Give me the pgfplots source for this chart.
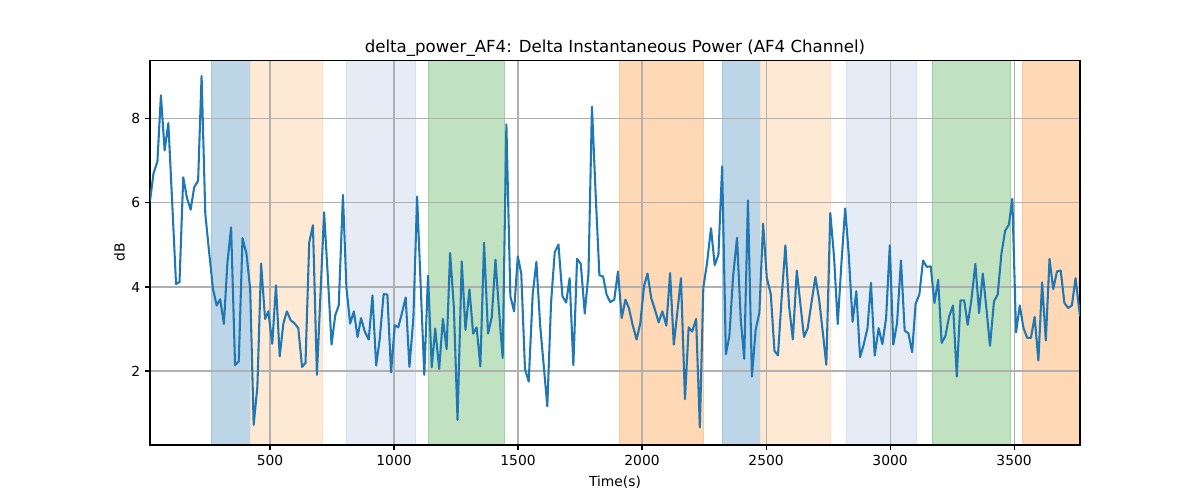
\documentclass[border=0pt]{standalone}
\usepackage{pgfplots}
\pgfplotsset{compat=1.18}
\usepackage{fontspec}
\setmainfont{DejaVu Sans}
\definecolor{tabblue}{RGB}{31,119,180}
\definecolor{bandblue}{RGB}{188,214,232}
\definecolor{bandlorange}{RGB}{254,233,213}
\definecolor{bandlblue}{RGB}{229,236,246}
\definecolor{bandgreen}{RGB}{192,226,192}
\definecolor{bandorange}{RGB}{255,216,182}
\definecolor{edgeblue}{RGB}{165,197,222}
\definecolor{edgelorange}{RGB}{252,222,196}
\definecolor{edgelblue}{RGB}{214,225,240}
\definecolor{edgegreen}{RGB}{160,210,160}
\definecolor{edgeorange}{RGB}{252,200,160}
\definecolor{gridgray}{RGB}{176,176,176}
\begin{document}
\begin{tikzpicture}
\pgfplotsset{set layers}
\begin{axis}[
  at={(0,0)}, anchor=south west,
  scale only axis, width=672.1pt, height=278.2pt,
  clip mode=individual,
  xmin=16, xmax=3766, ymin=0.24, ymax=9.40,
  xtick={500,1000,1500,2000,2500,3000,3500},
  ytick={2,4,6,8},
  grid=major,
  major grid style={gridgray, line width=0.8pt},
  tick style={black, line width=0.8pt},
  major tick length=3.5pt,
  tick align=outside,
  xtick pos=bottom, ytick pos=left,
  axis line style={black, line width=0.8pt},
  /pgf/number format/assume math mode=true,
  /pgf/number format/1000 sep={},
  ticklabel style={font=\fontsize{10}{12}\selectfont},
  xlabel={Time(s)}, ylabel={dB},
  label style={font=\fontsize{10}{12}\selectfont},
  xlabel style={yshift=-1pt},
  ylabel style={yshift=-2pt},
  title={delta\_power\_AF4: Delta Instantaneous Power (AF4 Channel)},
  title style={font=\fontsize{12}{14}\selectfont, yshift=-7pt},
]
\addplot[fill=bandblue, draw=edgeblue, on layer=axis background] coordinates {(265,0) (265,10) (421,10) (421,0)} \closedcycle;
\addplot[fill=bandlorange, draw=edgelorange, on layer=axis background] coordinates {(421,0) (421,10) (710,10) (710,0)} \closedcycle;
\addplot[fill=bandlblue, draw=edgelblue, on layer=axis background] coordinates {(806,0) (806,10) (1084,10) (1084,0)} \closedcycle;
\addplot[fill=bandgreen, draw=edgegreen, on layer=axis background] coordinates {(1138,0) (1138,10) (1445,10) (1445,0)} \closedcycle;
\addplot[fill=bandorange, draw=edgeorange, on layer=axis background] coordinates {(1910,0) (1910,10) (2247,10) (2247,0)} \closedcycle;
\addplot[fill=bandblue, draw=edgeblue, on layer=axis background] coordinates {(2323,0) (2323,10) (2477,10) (2477,0)} \closedcycle;
\addplot[fill=bandlorange, draw=edgelorange, on layer=axis background] coordinates {(2477,0) (2477,10) (2757,10) (2757,0)} \closedcycle;
\addplot[fill=bandlblue, draw=edgelblue, on layer=axis background] coordinates {(2825,0) (2825,10) (3106,10) (3106,0)} \closedcycle;
\addplot[fill=bandgreen, draw=edgegreen, on layer=axis background] coordinates {(3169,0) (3169,10) (3485,10) (3485,0)} \closedcycle;
\addplot[fill=bandorange, draw=edgeorange, on layer=axis background] coordinates {(3535,0) (3535,10) (3800,10) (3800,0)} \closedcycle;
\addplot[tabblue, line width=1.5pt, line join=round] table {
x y
16 6.04
30 6.70
46 6.99
60 8.56
75 7.25
90 7.90
106 5.95
121 4.07
135 4.12
150 6.61
165 6.12
180 5.84
194 6.37
210 6.53
224 9.02
239 5.74
255 4.80
270 3.95
285 3.56
299 3.71
314 3.12
328 4.57
343 5.42
359 2.14
374 2.23
389 5.16
405 4.79
420 3.95
434 0.72
449 1.63
464 4.56
480 3.24
493 3.42
509 2.65
524 4.04
539 2.35
554 3.14
568 3.42
583 3.21
598 3.14
614 3.02
629 2.10
643 2.19
658 5.06
673 5.47
689 1.91
704 3.90
718 5.78
733 4.25
748 2.63
763 3.33
777 3.56
794 6.19
808 3.98
823 3.13
838 3.42
853 2.81
867 3.26
882 2.94
898 2.75
913 3.80
928 2.13
942 2.75
958 3.83
973 3.82
988 1.97
1003 3.09
1017 3.04
1032 3.38
1047 3.75
1062 2.10
1078 3.26
1093 6.15
1107 4.10
1122 1.91
1137 4.27
1152 2.09
1166 3.01
1182 2.05
1197 3.24
1212 2.52
1226 4.81
1241 3.54
1256 0.84
1273 4.61
1288 2.98
1304 3.94
1319 2.89
1333 3.04
1348 2.11
1363 5.05
1379 2.89
1394 3.28
1409 4.65
1423 3.46
1438 2.31
1453 7.87
1469 3.78
1484 3.42
1499 4.73
1513 4.32
1528 2.05
1543 1.75
1559 3.82
1574 4.60
1589 3.10
1604 2.10
1618 1.16
1633 3.62
1648 4.83
1663 5.01
1679 3.78
1694 3.63
1708 4.21
1723 2.14
1738 4.67
1753 4.55
1769 3.37
1784 4.33
1798 8.29
1813 6.20
1828 4.28
1843 4.25
1857 3.82
1872 3.64
1888 3.70
1903 4.37
1918 3.26
1933 3.70
1947 3.50
1962 3.10
1978 2.75
1993 3.14
2008 4.02
2022 4.32
2037 3.74
2052 3.46
2067 3.16
2082 3.42
2098 3.08
2113 4.33
2128 2.63
2142 3.38
2157 4.21
2173 1.33
2188 3.04
2202 2.94
2218 3.24
2233 0.66
2247 3.98
2262 4.57
2278 5.40
2293 4.52
2308 4.77
2323 6.87
2338 2.40
2352 2.83
2367 4.25
2383 5.17
2398 3.22
2412 2.29
2427 6.06
2443 1.87
2458 2.98
2473 3.38
2488 5.51
2503 4.22
2519 3.83
2534 2.48
2548 2.37
2563 3.75
2578 4.99
2593 3.54
2608 2.75
2624 4.39
2638 3.62
2653 2.81
2668 3.02
2683 3.62
2699 4.24
2714 3.70
2729 2.91
2743 2.15
2759 5.76
2774 4.73
2789 3.12
2804 4.57
2819 5.87
2833 4.81
2849 3.17
2864 3.90
2879 2.33
2894 2.64
2909 3.02
2923 4.10
2938 2.37
2954 3.02
2969 2.64
2984 3.26
2999 4.99
3013 2.63
3028 3.13
3044 4.63
3059 2.96
3074 2.90
3089 2.45
3103 3.60
3118 3.82
3133 4.63
3148 4.48
3164 4.49
3179 3.62
3194 4.17
3208 2.67
3223 2.83
3238 3.30
3254 3.56
3269 1.87
3284 3.68
3299 3.68
3313 3.10
3328 3.70
3344 4.55
3359 3.38
3374 4.32
3389 3.46
3403 2.60
3419 3.66
3434 3.82
3449 4.79
3464 5.34
3479 5.48
3493 6.10
3508 2.92
3523 3.56
3538 3.02
3553 2.79
3568 2.79
3583 3.29
3598 2.25
3613 4.11
3628 2.73
3643 4.67
3658 3.95
3673 4.37
3688 4.39
3703 3.62
3718 3.50
3733 3.56
3748 4.21
3766 3.30
};
\end{axis}
\path[use as bounding box] (-108.4pt,-39.75pt) rectangle (758.8pt,321.6pt);
\end{tikzpicture}
\end{document}
